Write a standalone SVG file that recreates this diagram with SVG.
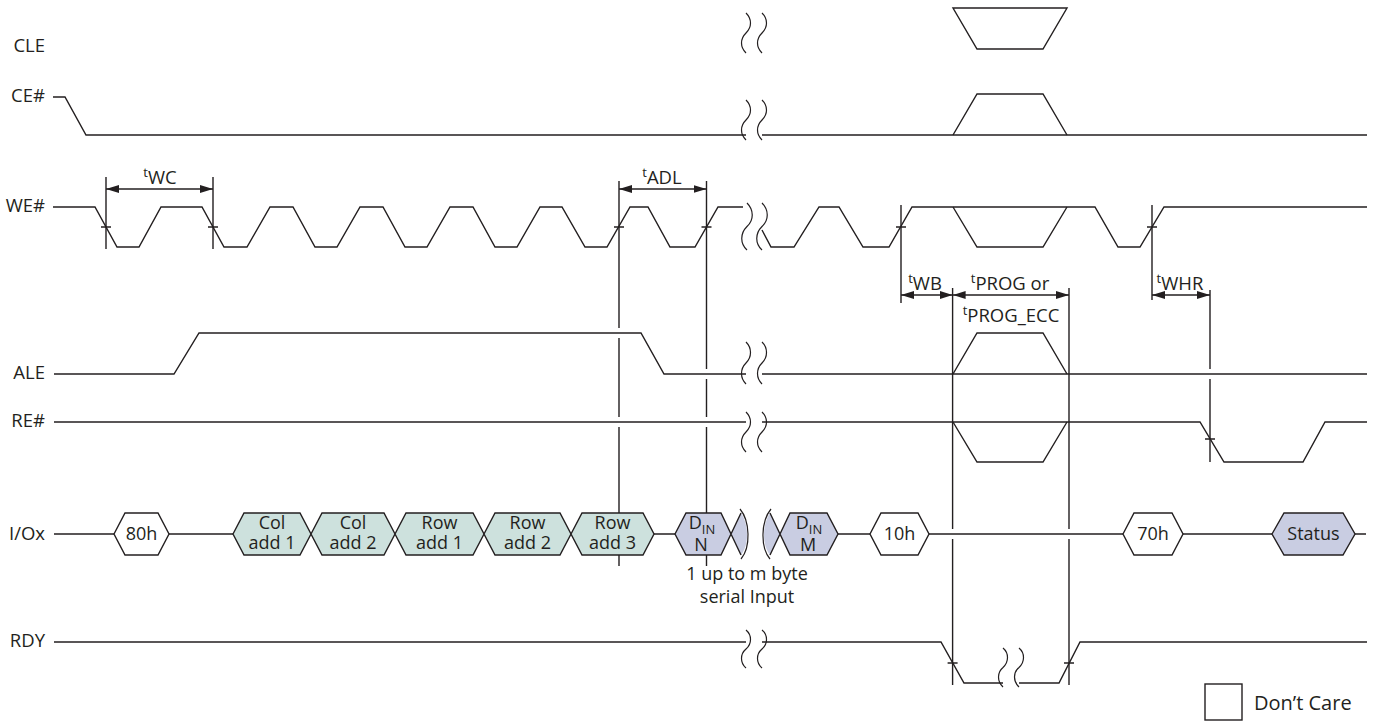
<svg xmlns="http://www.w3.org/2000/svg" width="1377" height="721" viewBox="0 0 1377 721">
<defs>
<style>
.ln{fill:none;stroke:#231f20;stroke-width:1.4;stroke-linejoin:miter}
.brk{fill:none;stroke:#231f20;stroke-width:1.2}
.lbl{font-family:"Open Sans","Noto Sans",sans-serif;font-size:18.5px;fill:#231f20}
.hx{font-size:18px}
.end{text-anchor:end}
.mid{text-anchor:middle}
.sup{font-size:13px}
.sub{font-size:13px}
.hex{stroke:#231f20;stroke-width:1.4;stroke-linejoin:miter}
.white{fill:#ffffff}
.teal{fill:#cde1dd}
.lav{fill:#c9cde2}
.arr{fill:none;stroke:#231f20;stroke-width:1.4;marker-start:url(#ah);marker-end:url(#ah)}
</style>
<marker id="ah" markerUnits="userSpaceOnUse" markerWidth="13" markerHeight="8" refX="13" refY="4" orient="auto-start-reverse">
<path d="M0,0 L13,4 L0,8 Z" fill="#231f20"/>
</marker>
</defs>
<rect width="1377" height="721" fill="#ffffff"/>

<!-- connectors: vertical reference lines, timing arrows, ticks -->
<g id="connectors">
<path class="ln" d="M106,177 V249 M213,177 V249"/>
<path class="ln" d="M619,181 V328 M619,338 V417 M619,427 V566"/>
<path class="ln" d="M706.5,181 V369 M706.5,379 V417 M706.5,427 V566"/>
<path class="ln" d="M901,205 V303 M1152,205 V300"/>
<path class="ln" d="M1210,290 V369 M1210,379 V462"/>
<path class="ln" d="M952.6,288 V529 M952.6,539 V685 M1069,288 V529 M1069,539 V685"/>
<path class="arr" d="M106,189 H213"/>
<path class="arr" d="M619,189 H706.5"/>
<path class="arr" d="M901,295 H952.6"/>
<path class="arr" d="M952.6,295 H1069"/>
<path class="arr" d="M1152,295 H1210"/>
<path class="ln" d="M101,227 H111 M208,227 H218 M614,227 H624 M701.5,227 H711.5 M896,227 H906 M1147,227 H1157 M1205,439 H1215 M947.6,663 H957.6 M1064,663 H1074"/>
<text class="lbl mid" x="160" y="184"><tspan class="sup" dy="-7">t</tspan><tspan dy="7">WC</tspan></text>
<text class="lbl mid" x="662" y="184"><tspan class="sup" dy="-7">t</tspan><tspan dy="7">ADL</tspan></text>
<text class="lbl mid" x="925" y="290"><tspan class="sup" dy="-7">t</tspan><tspan dy="7">WB</tspan></text>
<text class="lbl mid" x="1010" y="290"><tspan class="sup" dy="-7">t</tspan><tspan dy="7">PROG or</tspan></text>
<text class="lbl mid" x="1011" y="322"><tspan class="sup" dy="-7">t</tspan><tspan dy="7">PROG_ECC</tspan></text>
<text class="lbl mid" x="1180" y="290"><tspan class="sup" dy="-7">t</tspan><tspan dy="7">WHR</tspan></text>
</g>

<g id="sig-CLE">
<text class="lbl end" x="45" y="52">CLE</text>
<path class="ln" d="M953,8 H1067 L1043,49 H977 Z"/>
<path class="brk" d="M746,13 c6,6 6,14 0,20 c-6,6 -6,14 0,20 M762,13 c6,6 6,14 0,20 c-6,6 -6,14 0,20"/>
</g>

<g id="sig-CE">
<text class="lbl end" x="45" y="102">CE#</text>
<path class="ln" d="M53,97 H65 L86,135 H746 M762,135 H1367"/>
<path class="ln" d="M953,135 L977,94 H1043 L1067,135"/>
<path class="brk" d="M746,100 c6,6 6,14 0,20 c-6,6 -6,14 0,20 M762,100 c6,6 6,14 0,20 c-6,6 -6,14 0,20"/>
</g>

<g id="sig-WE">
<text class="lbl end" x="45" y="212">WE#</text>
<path class="ln" d="M53,207 H95 L117,247 H139 L161,207 H202 L224,247 H247 L270,207 H293 L315,247 H337 L360,207 H383 L405,247 H427 L450,207 H473 L495,247 H517 L540,207 H562 L585,247 H607 L630,207 H648 L670,247 H695 L718,207 H743"/>
<path class="ln" d="M762,230 L771,247 H794 L819,207 H839 L863,247 H889 L912,207 H1095 L1118,247 H1140 L1164,207 H1367"/>
<path class="ln" d="M953,207 L977,247 H1043 L1067,207"/>
<path class="brk" d="M747,203 c7,7 7,17 0,23.5 c-7,7 -7,17 0,23.5 M762,203 c7,7 7,17 0,23.5 c-7,7 -7,17 0,23.5"/>
</g>

<g id="sig-ALE">
<text class="lbl end" x="45" y="379">ALE</text>
<path class="ln" d="M54,374 H174 L199,333 H641 L664,374 H746 M762,374 H1367"/>
<path class="ln" d="M953,374 L977,333 H1043 L1067,374"/>
<path class="brk" d="M746,342 c6,6 6,15 0,21 c-6,6 -6,15 0,21 M762,342 c6,6 6,15 0,21 c-6,6 -6,15 0,21"/>
</g>

<g id="sig-RE">
<text class="lbl end" x="45" y="427">RE#</text>
<path class="ln" d="M54,422 H746 M762,422 H1200 L1224,462 H1303 L1325,422 H1367"/>
<path class="ln" d="M953,422 L977,462 H1043 L1067,422"/>
<path class="brk" d="M746,412 c6,6 6,14 0,20 c-6,6 -6,14 0,20 M762,412 c6,6 6,14 0,20 c-6,6 -6,14 0,20"/>
</g>

<g id="sig-IO">
<text class="lbl end" x="45" y="540">I/Ox</text>
<path class="ln" d="M54,534 H114 M169,534 H233 M654,534 H675 M838,534 H870 M929,534 H1123 M1183,534 H1272 M1355,534 H1366"/>
</g>
<g id="bus-80h">
<polygon class="hex white" points="114,534 125,513 158,513 169,534 158,555 125,555"/>
<text class="lbl hx mid" x="141.5" y="540">80h</text>
</g>
<g id="bus-col1">
<polygon class="hex teal" points="233,534 244,513 300,513 311,534 300,555 244,555"/>
<text class="lbl hx mid" x="272" y="529">Col<tspan x="272" dy="20">add 1</tspan></text>
</g>
<g id="bus-col2">
<polygon class="hex teal" points="311,534 322,513 384,513 395,534 384,555 322,555"/>
<text class="lbl hx mid" x="353" y="529">Col<tspan x="353" dy="20">add 2</tspan></text>
</g>
<g id="bus-row1">
<polygon class="hex teal" points="395,534 406,513 473,513 484,534 473,555 406,555"/>
<text class="lbl hx mid" x="439.5" y="529">Row<tspan x="439.5" dy="20">add 1</tspan></text>
</g>
<g id="bus-row2">
<polygon class="hex teal" points="484,534 495,513 560,513 571,534 560,555 495,555"/>
<text class="lbl hx mid" x="527.5" y="529">Row<tspan x="527.5" dy="20">add 2</tspan></text>
</g>
<g id="bus-row3">
<polygon class="hex teal" points="571,534 582,513 643,513 654,534 643,555 582,555"/>
<text class="lbl hx mid" x="612.5" y="529">Row<tspan x="612.5" dy="20">add 3</tspan></text>
</g>
<g id="bus-dinN">
<polygon class="hex lav" points="675,534 686,513 721,513 731,534 721,555 686,555"/>
<path class="lav" d="M731,534 L741,513 C749,525 749,545 741,555 Z"/>
<path class="ln" d="M731,534 L741,513 M731,534 L741,555"/>
<path class="brk" d="M740,509 C750,521 751,547 741,559"/>
<text class="lbl hx mid" x="702" y="529">D<tspan class="sub" dy="5">IN</tspan><tspan x="701" dy="17">N</tspan></text>
</g>
<g id="bus-dinM">
<path class="lav" d="M780,534 L770,513 C762,525 762,545 770,555 Z"/>
<path class="ln" d="M780,534 L770,513 M780,534 L770,555"/>
<path class="brk" d="M771,509 C761,521 760,547 770,559"/>
<polygon class="hex lav" points="780,534 790,513 827,513 838,534 827,555 790,555"/>
<text class="lbl hx mid" x="809" y="529">D<tspan class="sub" dy="5">IN</tspan><tspan x="808" dy="17">M</tspan></text>
</g>
<g id="bus-10h">
<polygon class="hex white" points="870,534 881,513 918,513 929,534 918,555 881,555"/>
<text class="lbl hx mid" x="899.5" y="540">10h</text>
</g>
<g id="bus-70h">
<polygon class="hex white" points="1123,534 1134,513 1172,513 1183,534 1172,555 1134,555"/>
<text class="lbl hx mid" x="1153" y="540">70h</text>
</g>
<g id="bus-status">
<polygon class="hex lav" points="1272,534 1284,513 1343,513 1355,534 1343,555 1284,555"/>
<text class="lbl hx mid" x="1313.5" y="540">Status</text>
</g>
<g id="note-serial">
<text class="lbl hx mid" x="747" y="580">1 up to m byte<tspan x="747" dy="23">serial Input</tspan></text>
</g>

<g id="sig-RDY">
<text class="lbl end" x="45" y="647">RDY</text>
<path class="ln" d="M54,642 H746 M762,642 H941 L964,683 H1003 M1019,683 H1059 L1080,642 H1367"/>
<path class="brk" d="M746,630 c6,5 6,14 0,19 c-6,5 -6,14 0,19 M762,630 c6,5 6,14 0,19 c-6,5 -6,14 0,19"/>
<path class="brk" d="M1003,648 c6,5 6,14 0,19.5 c-6,5 -6,14 0,19.5 M1019,648 c6,5 6,14 0,19.5 c-6,5 -6,14 0,19.5"/>
</g>

<g id="legend">
<rect x="1205" y="684" width="37" height="36" fill="#ffffff" stroke="#231f20" stroke-width="1.4"/>
<text class="lbl" x="1254" y="710" style="font-size:20px">Don’t Care</text>
</g>
</svg>
